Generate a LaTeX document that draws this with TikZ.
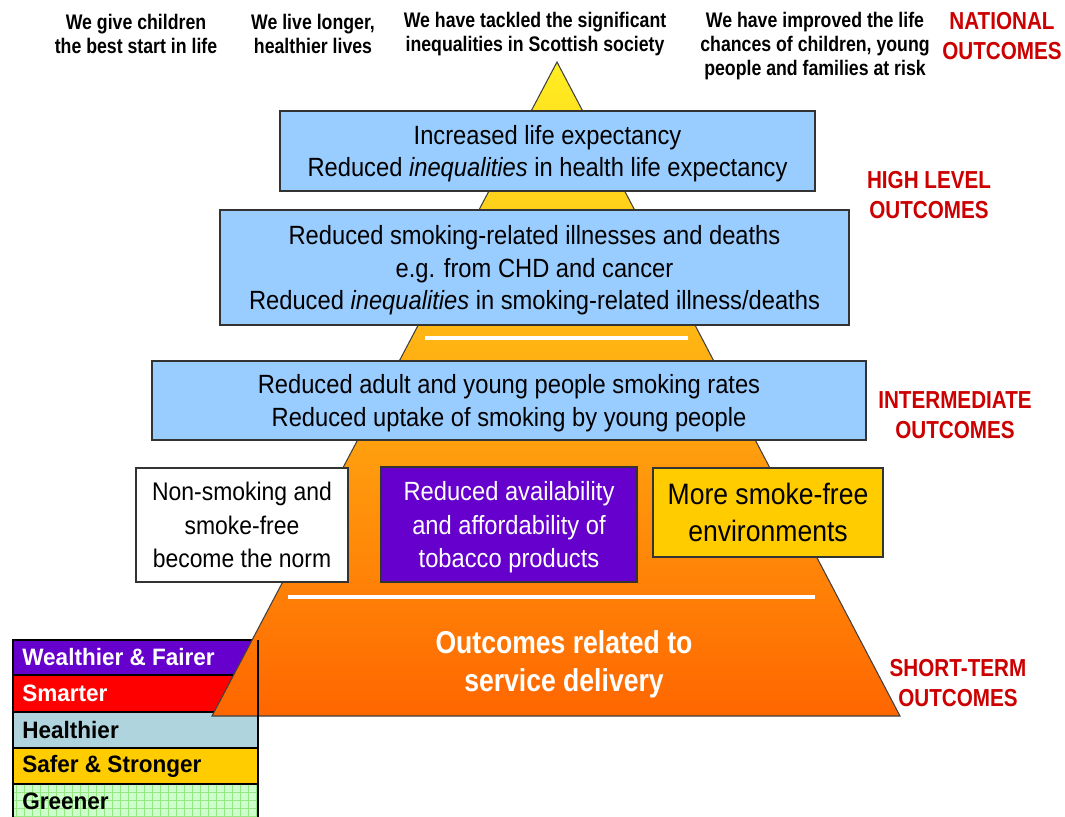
\documentclass[tikz,border=0pt]{standalone}
\usepackage{fontspec}
\setmainfont{Liberation Sans}[FakeStretch=0.9]
\newfontfamily\narrowfont{Liberation Sans}[FakeStretch=0.84]
\newfontfamily\legendfont{Liberation Sans}[FakeStretch=0.95]
\usepackage{xcolor}
\definecolor{skyblue}{RGB}{153,204,255}
\definecolor{tobacco}{RGB}{102,0,204}
\definecolor{smokefree}{RGB}{255,204,0}
\definecolor{outred}{RGB}{204,0,0}
\definecolor{pyrtop}{RGB}{255,238,34}
\definecolor{pyrmid}{RGB}{252,186,34}
\definecolor{pyrbot}{RGB}{255,102,0}
\definecolor{healthy}{RGB}{176,212,222}
\definecolor{leafgreen}{RGB}{204,255,204}
\definecolor{gridgreen}{RGB}{150,232,130}

\begin{document}
\begin{tikzpicture}[
    x=0.02cm, y=-0.02cm,
    box/.style={rectangle, draw=black!80, line width=0.7pt, align=center, inner sep=2pt, text=black, text depth=-2pt, font=\fontsize{15}{18.7}\selectfont},
    tier/.style={align=center, text=outred, font=\narrowfont\bfseries\fontsize{14}{17}\selectfont},
    goal/.style={align=center, font=\narrowfont\bfseries\fontsize{12}{13.6}\selectfont},
    legrow/.style={draw=black, line width=0.9pt},
    legtext/.style={anchor=west, inner sep=0pt, font=\legendfont\bfseries\fontsize{13.5}{16}\selectfont},
    rule/.style={white, line width=2.2pt}
]
\useasboundingbox (0,0) rectangle (1065,816);

% Legend
\fill[tobacco] (13,640) rectangle (258,675);
\fill[red] (13,675) rectangle (258,712);
\fill[healthy] (13,712) rectangle (258,748);
\fill[smokefree] (13,748) rectangle (258,784);
\fill[leafgreen] (13,784) rectangle (258,830);
\draw[gridgreen, line width=0.3pt, step=0.16cm] (13,784) grid (258,830);
\draw[legrow] (13,830) -- (13,640) -- (258,640);
\foreach \y in {675,712,748,784}
    \draw[legrow] (13,\y) -- (258,\y);

\node[legtext, text=white] (wealth) at (22,657) {Wealthier \& Fairer};
\node[legtext, text=white] (smart) at (22,693) {Smarter};
\node[legtext] (health) at (22,730) {Healthier};
\node[legtext] (safe) at (22,766) {Safer \& Stronger};
\node[legtext] (green) at (22,801) {Greener};

% Pyramid
\coordinate (apex) at (557,62);
\coordinate (baseL) at (212,716);
\coordinate (baseR) at (900,716);
\shade[top color=pyrtop, middle color=pyrmid, bottom color=pyrbot] (apex) -- (baseR) -- (baseL) -- cycle;
\draw[black!75, line width=0.6pt] (apex) -- (baseR) -- (baseL) -- cycle;
\draw[line width=1.2pt] (258,640) -- (258,830);

% Dividers
\draw[rule] (425,338) -- (688,338);
\draw[rule] (288,597) -- (815,597);

% Outcome boxes
\node[box, fill=skyblue, minimum width=10.7cm, minimum height=1.6cm] (life) at (547.5,151)
    {Increased life expectancy\\Reduced \textit{inequalities} in health life expectancy};
\node[box, fill=skyblue, minimum width=12.58cm, minimum height=2.3cm] (illness) at (534.5,267.5)
    {Reduced smoking-related illnesses and deaths\\e.g. from CHD and cancer\\Reduced \textit{inequalities} in smoking-related illness/deaths};
\node[box, fill=skyblue, minimum width=14.28cm, minimum height=1.58cm] (rates) at (509,400.5)
    {Reduced adult and young people smoking rates\\Reduced uptake of smoking by young people};
\node[box, fill=white, minimum width=4.24cm, minimum height=2.28cm, font=\fontsize{14.5}{19}\selectfont] (norm) at (242,525)
    {Non-smoking and\\smoke-free\\become the norm};
\node[box, fill=tobacco, text=white, minimum width=5.12cm, minimum height=2.3cm, font=\fontsize{15}{19.3}\selectfont] (supply) at (509,524.5)
    {Reduced availability\\and affordability of\\tobacco products};
\node[box, fill=smokefree, minimum width=4.6cm, minimum height=1.78cm, font=\fontsize{16.8}{21}\selectfont] (places) at (768,512.5)
    {More smoke-free\\environments};
\node[white, align=center, font=\narrowfont\bfseries\fontsize{18}{21.5}\selectfont] (service) at (564,664)
    {Outcomes related to\\service delivery};

% National outcomes along the top
\node[goal] (start) at (136,34) {We give children\\the best start in life};
\node[goal] (longer) at (313,34) {We live longer,\\healthier lives};
\node[goal] (tackled) at (535,34) {We have tackled the significant\\inequalities in Scottish society};
\node[goal] (risk) at (815,46) {We have improved the life\\chances of children, young\\people and families at risk};

% Tier labels
\node[tier] (national) at (1002,36) {NATIONAL\\OUTCOMES};
\node[tier] (highlevel) at (929,195) {HIGH LEVEL\\OUTCOMES};
\node[tier] (intermediate) at (955,415) {INTERMEDIATE\\OUTCOMES};
\node[tier] (shortterm) at (958,683) {SHORT-TERM\\OUTCOMES};

\end{tikzpicture}
\end{document}
